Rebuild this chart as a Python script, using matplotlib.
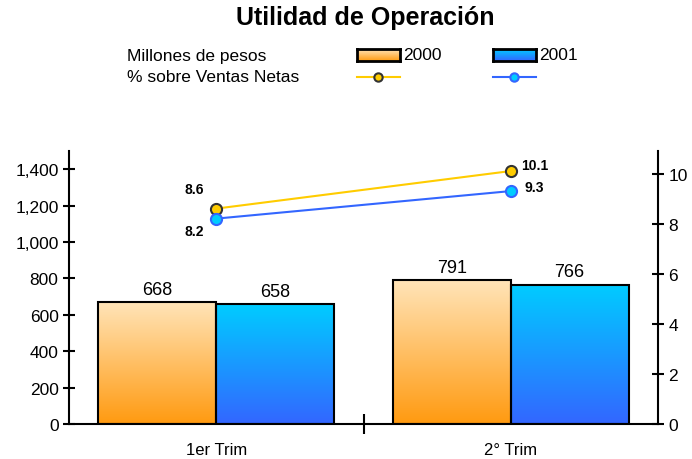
import numpy as np
import matplotlib.pyplot as plt
from matplotlib.lines import Line2D
from matplotlib.colors import LinearSegmentedColormap

plt.rcParams['font.family'] = ['Liberation Sans', 'DejaVu Sans']

categorias = ['1er Trim', '2° Trim']
utilidad_2000 = [668, 791]
utilidad_2001 = [658, 766]
pct_2000 = [8.6, 10.1]
pct_2001 = [8.2, 9.3]

naranja = LinearSegmentedColormap.from_list('nar', ['#FF9A10', '#FFE4B8'])
azul = LinearSegmentedColormap.from_list('azl', ['#3366FF', '#00CCFF'])

fig = plt.figure(figsize=(6.92, 4.6), dpi=100)
ax = fig.add_axes([69 / 692, 35 / 460, 589 / 692, 273 / 460])
ax2 = ax.twinx()

x = np.arange(len(categorias))
w = 0.4
grad = np.linspace(0, 1, 256).reshape(-1, 1)


def barras_degradado(pos, vals, cmap):
    bars = ax.bar(pos, vals, w, align='edge', facecolor='none',
                  edgecolor='black', linewidth=1.5, zorder=3)
    for b in bars:
        x0, y0 = b.get_x(), b.get_y()
        im = ax.imshow(grad, cmap=cmap, origin='lower', aspect='auto',
                       extent=[x0, x0 + b.get_width(), y0, y0 + b.get_height()],
                       zorder=2)
        im.set_clip_path(b)
    return bars


b1 = barras_degradado(x - w, utilidad_2000, naranja)
b2 = barras_degradado(x, utilidad_2001, azul)
for bars in (b1, b2):
    for b in bars:
        ax.annotate(f'{b.get_height():.0f}', (b.get_x() + b.get_width() / 2, b.get_height()),
                    xytext=(0, 3), textcoords='offset points',
                    ha='center', va='bottom', fontsize=13)

ax.set_xlim(-0.5, 1.5)
ax.set_ylim(0, 1500)
ax.set_yticks(range(0, 1401, 200))
ax.set_yticklabels([f'{v:,}' for v in range(0, 1401, 200)])
ax.set_xticks([0.5])
ax.set_xticklabels([''])
for i, c in enumerate(categorias):
    ax.text(i, -0.095, c, transform=ax.get_xaxis_transform(),
            ha='center', va='center', fontsize=12)
ax.tick_params(axis='both', direction='inout', length=8, width=1.5, labelsize=12.5)
ax.tick_params(axis='x', length=14)
for s in ['top', 'right']:
    ax.spines[s].set_visible(False)
for s in ['left', 'bottom']:
    ax.spines[s].set_linewidth(1.5)

# lineas de porcentaje
ax2.plot(x, pct_2000, color='#FFCC00', linewidth=1.5, marker='o', markersize=8,
         markerfacecolor='#FFCC00', markeredgecolor='#333333', markeredgewidth=1.5, zorder=5)
ax2.plot(x, pct_2001, color='#3366FF', linewidth=1.5, marker='o', markersize=8,
         markerfacecolor='#00CCFF', markeredgecolor='#3366FF', markeredgewidth=1.5, zorder=5)
ax2.set_ylim(0, 10.9)
ax2.set_yticks(range(0, 11, 2))
ax2.tick_params(direction='inout', length=8, width=1.5, labelsize=12.5)
for s in ['top', 'left', 'bottom']:
    ax2.spines[s].set_visible(False)
ax2.spines['right'].set_linewidth(1.5)

estilo = dict(textcoords='offset points', ha='center', va='center', fontsize=10, fontweight='bold')
ax2.annotate(f'{pct_2000[0]}', (x[0], pct_2000[0]), xytext=(-16, 14), **estilo)
ax2.annotate(f'{pct_2001[0]}', (x[0], pct_2001[0]), xytext=(-16, -9), **estilo)
ax2.annotate(f'{pct_2000[1]}', (x[1], pct_2000[1]), xytext=(17, 4), **estilo)
ax2.annotate(f'{pct_2001[1]}', (x[1], pct_2001[1]), xytext=(17, 3), **estilo)

# titulo y leyenda
fig.text(365 / 692, 1 - 18 / 460, 'Utilidad de Operación', ha='center', va='center',
         fontsize=18, fontweight='bold')
fig.text(127 / 692, 1 - 56 / 460, 'Millones de pesos', ha='left', va='center', fontsize=12.5)
fig.text(127 / 692, 1 - 77 / 460, '% sobre Ventas Netas', ha='left', va='center', fontsize=12.5)

for x0, cmap, etiqueta, col, mfc, mec in [
        (357, naranja, '2000', '#FFCC00', '#FFCC00', '#333333'),
        (493, azul, '2001', '#3366FF', '#00CCFF', '#3366FF')]:
    lax = fig.add_axes([x0 / 692, 1 - 62 / 460, 43 / 692, 12 / 460])
    lax.imshow(grad, cmap=cmap, origin='lower', aspect='auto', extent=[0, 1, 0, 1])
    lax.set_xticks([])
    lax.set_yticks([])
    for s in lax.spines.values():
        s.set_linewidth(2)
    fig.text((x0 + 46) / 692, 1 - 56 / 460, etiqueta, ha='left', va='center', fontsize=12.5)
    fig.add_artist(Line2D([x0 / 692, (x0 + 43) / 692], [1 - 78 / 460] * 2, color=col,
                          linewidth=1.5, transform=fig.transFigure))
    fig.add_artist(Line2D([(x0 + 21) / 692], [1 - 78 / 460], color=col, marker='o',
                          markersize=6, markerfacecolor=mfc, markeredgecolor=mec,
                          markeredgewidth=1.5, linestyle='none', transform=fig.transFigure))

fig.savefig('out.png', dpi=100)
